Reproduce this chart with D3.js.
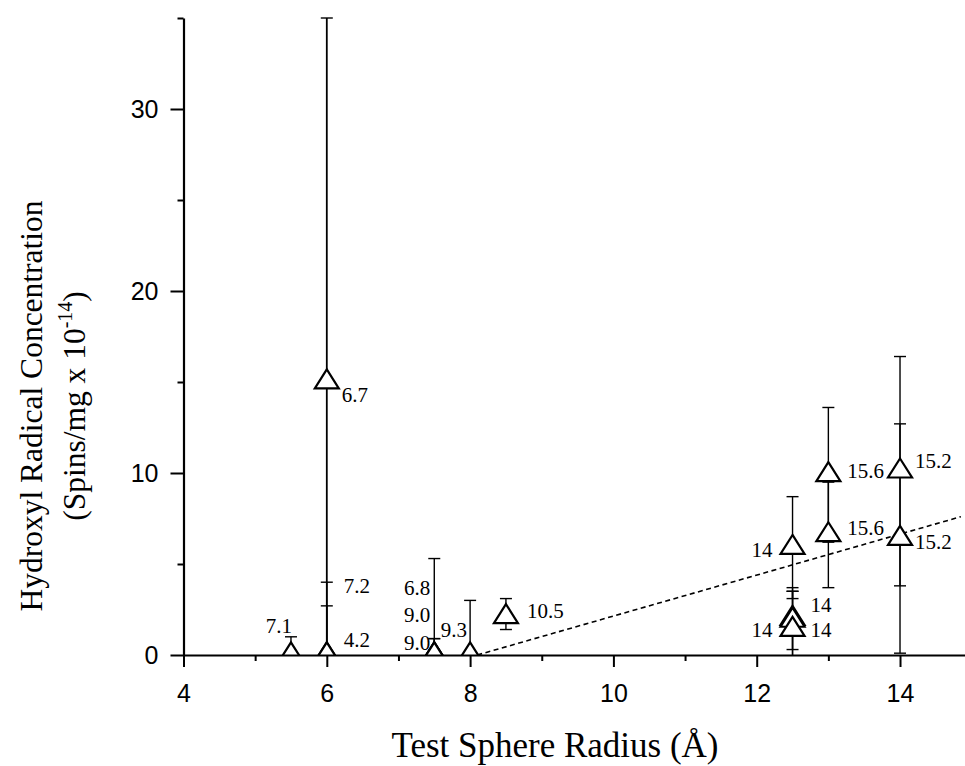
<!DOCTYPE html>
<html><head><meta charset="utf-8">
<script src="https://cdn.jsdelivr.net/npm/d3@7"></script>
<style>body{margin:0;background:#fff} svg{display:block}</style>
</head><body>
<svg id="c" width="965" height="766"></svg>
<script>
// ---- data ----
const radius      = [5.5, 6, 6, 6, 7.5, 7.5, 7.5, 8, 8.5, 12.5, 12.5, 12.5, 12.5, 13, 13, 14, 14];
const conc        = [0, 15.0, 0, 0, 0, 0, 0, 0, 2.1, 5.9, 2.0, 1.9, 1.4, 9.9, 6.6, 10.1, 6.4];
const errLow      = [-1.0, -5, -2.7, -4.0, -5.3, -0.9, -0.9, -3.0, 1.4, 3.1, 0.3, -0.5, -0.7, 6.2, 3.7, 3.8, 0.1];
const errHigh     = [1.0, 35, 2.7, 4.0, 5.3, 0.9, 0.9, 3.0, 3.1, 8.7, 3.7, 3.5, 3.5, 13.6, 9.5, 16.4, 12.7];
const pointLabels = ["7.1","6.7","4.2","7.2","6.8","9.0","9.0","9.3","10.5","14","14","14","14","15.6","15.6","15.2","15.2"];
const fitX = [8.1, 14.85];
const fitY = [0, 7.6];
const xTicks = [4, 6, 8, 10, 12, 14];
const xMinor = [5, 7, 9, 11, 13];
const yTicks = [0, 10, 20, 30];
const yMinor = [5, 15, 25, 35];

// ---- label placement (pixel offsets from each point) ----
const labelPlace = [
  [1,-22,"end"],[15,20,"start"],[17,-8,"start"],[17,-62,"start"],
  [-4,-60,"end"],[-4,-33,"end"],[-4,-5,"end"],[-3,-18,"end"],
  [21,1,"start"],[-20,9,"end"],[18,-7,"start"],[-20,17,"end"],[18,7,"start"],
  [19,3,"start"],[19,0,"start"],[15,-3,"start"],[15,10,"start"]
];

const svg = d3.select("#c");
const x = d3.scaleLinear().domain([4, 14.9]).range([183.5, 964.5]);
const y = d3.scaleLinear().domain([0, 35]).range([655, 18]);

svg.append("defs").append("clipPath").attr("id","plot")
  .append("rect").attr("x",183).attr("y",0).attr("width",782).attr("height",655);

const pts = radius.map((r,i)=>({r, v:conc[i], lo:errLow[i], hi:errHigh[i], lab:pointLabels[i], pl:labelPlace[i]}));

const g = svg.append("g").attr("clip-path","url(#plot)");

// regression (dashed) line
g.append("path")
  .attr("d", d3.line().x(d=>x(d[0])).y(d=>y(d[1]))(fitX.map((v,i)=>[v, fitY[i]])))
  .attr("fill","none").attr("stroke","#000").attr("stroke-width",1.6)
  .attr("stroke-dasharray","5,3.5");

// error bars
const cap = 6;
pts.forEach((p,i)=>{
  g.append("line").attr("x1",x(p.r)).attr("x2",x(p.r)).attr("y1",y(p.lo)).attr("y2",y(p.hi))
    .attr("stroke","#000").attr("stroke-width", i===1 ? 1.8 : 1.4);
  [p.lo,p.hi].forEach(e=>{
    g.append("line").attr("x1",x(p.r)-cap).attr("x2",x(p.r)+cap).attr("y1",y(e)).attr("y2",y(e))
      .attr("stroke","#000").attr("stroke-width",1.4);
  });
});

// triangle markers (open)
const tw = 24, th = 19;
const tri = `M0,${-2*th/3} L${tw/2},${th/3} L${-tw/2},${th/3} Z`;
g.selectAll("path.tri").data(pts).join("path").attr("class","tri")
  .attr("d", tri)
  .attr("transform", d=>`translate(${x(d.r)},${y(d.v)})`)
  .attr("fill","#fff").attr("stroke","#000").attr("stroke-width",2.2).attr("stroke-linejoin","miter");

// point labels
svg.selectAll("text.pl").data(pts).join("text").attr("class","pl")
  .attr("x", d=>x(d.r)+d.pl[0]).attr("y", d=>y(d.v)+d.pl[1])
  .attr("text-anchor", d=>d.pl[2])
  .attr("font-family","'Liberation Serif','Times New Roman',serif").attr("font-size",21)
  .attr("fill","#000").text(d=>d.lab);

// axes
const axStyle = sel => {
  sel.selectAll("path.domain").attr("stroke","#000").attr("stroke-width",2.2);
  sel.selectAll(".tick line").attr("stroke","#000").attr("stroke-width",2);
  sel.selectAll(".tick text").attr("font-family","'Liberation Sans',Arial,sans-serif").attr("font-size",25).attr("fill","#000");
};
const xa = svg.append("g").attr("transform","translate(0,655)")
  .call(d3.axisBottom(x).tickValues(xTicks).tickSize(12).tickSizeOuter(0).tickPadding(17).tickFormat(d3.format("d")));
axStyle(xa);
const xm = svg.append("g").attr("transform","translate(0,655)")
  .call(d3.axisBottom(x).tickValues(xMinor).tickSize(6).tickSizeOuter(0).tickFormat(""));
axStyle(xm);
xm.select("path.domain").remove();

const ya = svg.append("g").attr("transform","translate(183.5,0)")
  .call(d3.axisLeft(y).tickValues(yTicks).tickSize(13).tickSizeOuter(0).tickPadding(12).tickFormat(d3.format("d")));
axStyle(ya);
const ym = svg.append("g").attr("transform","translate(183.5,0)")
  .call(d3.axisLeft(y).tickValues(yMinor).tickSize(6).tickSizeOuter(0).tickFormat(""));
axStyle(ym);
ym.select("path.domain").remove();

// axis titles
const serif = "'Liberation Serif','Times New Roman',serif";
svg.append("text").attr("x",555).attr("y",757).attr("text-anchor","middle")
  .attr("font-family",serif).attr("font-size",35).attr("fill","#000")
  .text("Test Sphere Radius (Å)");

svg.append("text").attr("transform","translate(42,406) rotate(-90)").attr("text-anchor","middle")
  .attr("font-family",serif).attr("font-size",31.5).attr("fill","#000")
  .text("Hydroxyl Radical Concentration");

const t2 = svg.append("text").attr("transform","translate(85,406) rotate(-90)").attr("text-anchor","middle")
  .attr("font-family",serif).attr("font-size",31.5).attr("fill","#000");
t2.append("tspan").text("(Spins/mg x 10");
t2.append("tspan").attr("dy",-13).attr("font-size",20).text("-14");
t2.append("tspan").attr("dy",13).text(")");
</script>
</body></html>
